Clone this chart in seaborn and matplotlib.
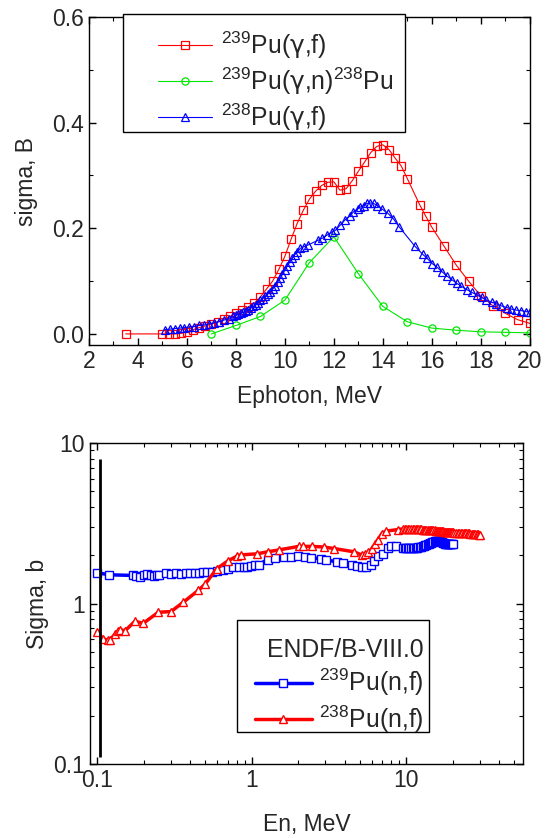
import matplotlib
matplotlib.use('Agg')
import matplotlib.pyplot as plt
from matplotlib.patches import Rectangle
from matplotlib.ticker import MultipleLocator, LogLocator, NullFormatter, FormatStrFormatter
import pandas as pd
import seaborn as sns

# --- photon-induced reactions (upper panel)
gf239_e = [3.5, 5.0, 5.25, 5.5, 5.75, 6.0, 6.25, 6.5, 6.75, 7.0, 7.25, 7.5, 7.75, 8.0, 8.25,
           8.5, 8.75, 9.0, 9.25, 9.5, 9.75, 10.0, 10.25, 10.5, 10.75, 11.0, 11.25, 11.5, 11.75,
           12.0, 12.25, 12.5, 12.75, 13.0, 13.25, 13.5, 13.75, 14.0, 14.25, 14.5, 14.75, 15.0,
           15.5, 15.75, 16.0, 16.5, 17.0, 17.5, 18.0, 18.5, 19.0, 19.5, 20.0]
gf239_s = [0.0, 0.0, 0.0, 0.0, 0.001, 0.004, 0.008, 0.012, 0.015, 0.019, 0.023, 0.028, 0.033,
           0.039, 0.045, 0.051, 0.058, 0.070, 0.085, 0.100, 0.122, 0.147, 0.179, 0.209, 0.234,
           0.255, 0.270, 0.281, 0.287, 0.288, 0.272, 0.275, 0.290, 0.308, 0.325, 0.343, 0.355,
           0.358, 0.349, 0.333, 0.318, 0.294, 0.245, 0.223, 0.202, 0.166, 0.130, 0.100, 0.072,
           0.053, 0.039, 0.027, 0.020]

gn239_e = [7, 8, 9, 10, 11, 12, 13, 14, 15, 16, 17, 18, 19, 20]
gn239_s = [0.0, 0.016, 0.033, 0.064, 0.135, 0.184, 0.114, 0.052, 0.023, 0.011, 0.007, 0.004,
           0.003, 0.002]

gf238_e = [5.1, 5.3, 5.5, 5.7, 5.9, 6.1, 6.3, 6.5, 6.7, 6.9, 7.1, 7.3, 7.5, 7.7, 7.9, 8.0, 8.1,
           8.2, 8.3, 8.4, 8.5, 8.6, 8.7, 8.8, 8.9, 9.0, 9.1, 9.2, 9.3, 9.4, 9.5, 9.6, 9.7, 9.8,
           9.9, 10.0, 10.1, 10.2, 10.3, 10.4, 10.5, 10.63, 10.77, 10.93, 11.34, 11.52, 11.72,
           11.92, 12.06, 12.26, 12.46, 12.67, 12.80, 12.97, 13.07, 13.21, 13.35, 13.48, 13.62,
           13.78, 13.95, 14.19, 14.43, 14.66, 15.31, 15.62, 15.81, 16.02, 16.22, 16.41, 16.60,
           16.81, 17.01, 17.21, 17.42, 17.62, 17.83, 18.03, 18.23, 18.44, 18.64, 18.84, 19.05,
           19.25, 19.45, 19.66, 19.86, 20.0]
gf238_s = [0.008, 0.009, 0.010, 0.011, 0.012, 0.013, 0.014, 0.016, 0.017, 0.019, 0.021, 0.023,
           0.026, 0.029, 0.033, 0.035, 0.037, 0.039, 0.041, 0.043, 0.046, 0.049, 0.052, 0.055,
           0.059, 0.064, 0.067, 0.071, 0.076, 0.080, 0.085, 0.091, 0.098, 0.105, 0.113, 0.121,
           0.129, 0.136, 0.143, 0.150, 0.155, 0.162, 0.165, 0.168, 0.177, 0.181, 0.187, 0.193,
           0.196, 0.206, 0.216, 0.224, 0.231, 0.237, 0.240, 0.243, 0.247, 0.248, 0.247, 0.243,
           0.237, 0.229, 0.218, 0.203, 0.166, 0.151, 0.143, 0.133, 0.126, 0.118, 0.110, 0.103,
           0.096, 0.090, 0.084, 0.079, 0.074, 0.069, 0.064, 0.060, 0.057, 0.053, 0.050, 0.047,
           0.045, 0.044, 0.042, 0.042]

# --- neutron-induced fission, ENDF/B-VIII.0 (lower panel)
nf239_e = [0.100, 0.120, 0.172, 0.179, 0.190, 0.201, 0.210, 0.223, 0.234, 0.243, 0.253, 0.279,
           0.300, 0.325, 0.348, 0.377, 0.399, 0.430, 0.459, 0.487, 0.517, 0.553, 0.601, 0.656,
           0.707, 0.762, 0.833, 0.894, 0.930, 0.990, 1.055, 1.11, 1.27, 1.42, 1.62, 1.80, 2.00,
           2.22, 2.42, 2.80, 3.03, 3.58, 3.92, 4.49, 4.82, 5.14, 5.50, 5.89, 6.19, 6.59, 7.09,
           7.57, 8.00, 8.62,
           9.5, 9.75, 10.0, 10.25, 10.5, 10.75, 11.0, 11.25, 11.5, 11.75, 12.0, 12.25, 12.5,
           12.75, 13.0, 13.25, 13.5, 13.75, 14.0, 14.25, 14.5, 14.75, 15.0, 15.25, 15.5, 15.75,
           16.0, 16.25, 16.5, 16.75, 17.0, 17.25, 17.5, 17.75, 18.0, 18.25, 18.5, 18.75, 19.0,
           19.25, 19.5, 19.75, 20.0]
nf239_s = [1.556, 1.51, 1.496, 1.48, 1.47, 1.50, 1.52, 1.50, 1.49, 1.496, 1.51, 1.546, 1.53,
           1.54, 1.53, 1.56, 1.556, 1.556, 1.56, 1.57, 1.57, 1.57, 1.60, 1.62, 1.64, 1.69, 1.69,
           1.68, 1.70, 1.72, 1.74, 1.75, 1.88, 1.93, 1.95, 1.95, 1.98, 1.96, 1.93, 1.90, 1.88,
           1.81, 1.79, 1.75, 1.72, 1.70, 1.69, 1.74, 1.84, 1.97, 2.04, 2.23, 2.27, 2.27,
           2.22, 2.22, 2.22, 2.22, 2.22, 2.22, 2.22, 2.22, 2.23, 2.23, 2.24, 2.25, 2.26,
           2.27, 2.29, 2.30, 2.32, 2.34, 2.36, 2.38, 2.40, 2.42, 2.43, 2.45, 2.46, 2.47,
           2.47, 2.46, 2.45, 2.43, 2.41, 2.39, 2.37, 2.36, 2.35, 2.34, 2.34, 2.34, 2.35,
           2.35, 2.36, 2.36, 2.36]

nf238_e = [0.100, 0.110, 0.117, 0.121, 0.131, 0.137, 0.141, 0.152, 0.176, 0.199, 0.249, 0.301,
           0.362, 0.453, 0.500, 0.595, 0.707, 0.800, 0.855, 1.08, 1.27, 1.51, 2.02, 2.16, 2.45,
           2.93, 3.43, 4.60, 5.2, 5.43, 5.70, 6.0, 6.30, 6.52, 6.96, 7.42, 8.9,
           9.5, 9.75, 10.0, 10.25, 10.5, 10.75, 11.0, 11.25, 11.5, 11.75, 12.0, 12.25, 12.5,
           12.75, 13.0, 13.25, 13.5, 13.75, 14.0, 14.25, 14.5, 14.75, 15.0, 15.25, 15.5, 15.75,
           16.0, 16.25, 16.5, 16.75, 17.0, 17.25, 17.5, 17.75, 18.0, 18.25, 18.5, 18.75, 19.0,
           19.25, 19.5, 19.75, 20.0,
           20.5, 21.0, 21.5, 22.0, 22.5, 23.0, 23.5, 24.0, 24.5, 25.0, 25.5, 26.0, 26.5, 27.0,
           27.5, 28.0, 28.5, 29.0, 29.5, 30.0]
nf238_s = [0.668, 0.601, 0.593, 0.593, 0.646, 0.678, 0.685, 0.678, 0.775, 0.753, 0.882, 0.891,
           1.02, 1.21, 1.32, 1.65, 1.85, 1.97, 2.01, 2.04, 2.10, 2.16, 2.27, 2.27, 2.27, 2.25,
           2.20, 2.10, 2.00, 2.04, 2.09, 2.20, 2.36, 2.48, 2.73, 2.83, 2.89,
           2.92, 2.92, 2.93, 2.93, 2.92, 2.92, 2.92, 2.92, 2.91, 2.91, 2.90, 2.90, 2.90,
           2.89, 2.89, 2.89, 2.88, 2.88, 2.88, 2.87, 2.87, 2.86, 2.86, 2.86, 2.85, 2.85,
           2.84, 2.84, 2.83, 2.83, 2.82, 2.82, 2.81, 2.81, 2.80, 2.80, 2.79, 2.79, 2.79,
           2.78, 2.78, 2.78, 2.78,
           2.77, 2.77, 2.77, 2.76, 2.76, 2.75, 2.75, 2.75, 2.74, 2.74, 2.74, 2.73, 2.73, 2.72,
           2.72, 2.71, 2.71, 2.70, 2.69, 2.68]

# vertical marker line in the lower panel
cut_e = 0.105
cut_lo, cut_hi = 0.11, 7.9

sns.set_style('ticks')
plt.rcParams['font.family'] = ['Liberation Sans', 'DejaVu Sans']
plt.rcParams['mathtext.default'] = 'regular'
plt.rcParams['mathtext.fontset'] = 'custom'
plt.rcParams['mathtext.rm'] = 'Liberation Sans'
plt.rcParams['mathtext.sf'] = 'DejaVu Sans'

FS = 16.5
LFS = 17.8

fig = plt.figure(figsize=(5.51, 8.38), dpi=100)
ax1 = fig.add_axes([0.1615, 0.5883, 0.800, 0.3914])
ax2 = fig.add_axes([0.1633, 0.0883, 0.786, 0.383])

top = [
    (gf239_e, gf239_s, '#ff0000', 's', r'$^{239}$Pu($\mathsf{\gamma}$,f)'),
    (gn239_e, gn239_s, '#00e600', 'o', r'$^{239}$Pu($\mathsf{\gamma}$,n)$^{238}$Pu'),
    (gf238_e, gf238_s, '#0000ff', '^', r'$^{238}$Pu($\mathsf{\gamma}$,f)'),
]
for e, s, c, m, lab in top:
    df = pd.DataFrame({'E': e, 'sigma': s})
    sns.lineplot(data=df, x='E', y='sigma', color=c, marker=m, markersize=5.2,
                 markerfacecolor='none', markeredgecolor=c, markeredgewidth=0.9,
                 linewidth=0.8, estimator=None, label=lab, ax=ax1)

ax1.set(xlim=(2, 20), ylim=(-0.021, 0.6))
ax1.set_xticks(range(2, 21, 2))
ax1.set_yticks([0.0, 0.2, 0.4, 0.6])
ax1.yaxis.set_major_formatter(FormatStrFormatter('%.1f'))
ax1.xaxis.set_minor_locator(MultipleLocator(1))
ax1.yaxis.set_minor_locator(MultipleLocator(0.1))
ax1.set_xlabel('Ephoton, MeV', fontsize=FS, labelpad=9)
ax1.set_ylabel('sigma, B', fontsize=FS, labelpad=10)
# framed box drawn separately so the padding matches the original
ax1.add_patch(Rectangle((0.077, 0.649), 0.640, 0.360, transform=ax1.transAxes,
                        facecolor='white', edgecolor='black', linewidth=1.0,
                        clip_on=False, zorder=4))
ax1.legend(loc='upper left', bbox_to_anchor=(0.156, 0.962), fontsize=LFS,
           frameon=False, handlelength=2.2, handletextpad=0.35, borderpad=0,
           labelspacing=0.18, borderaxespad=0)

bottom = [
    (nf239_e, nf239_s, '#0000ff', 's', '$^{239}$Pu(n,f)'),
    (nf238_e, nf238_s, '#ff0000', '^', '$^{238}$Pu(n,f)'),
]
for e, s, c, m, lab in bottom:
    df = pd.DataFrame({'E': e, 'sigma': s})
    sns.lineplot(data=df, x='E', y='sigma', color=c, marker=m, markersize=6,
                 markerfacecolor='white', markeredgecolor=c, markeredgewidth=1.0,
                 linewidth=2.5, estimator=None, label=lab, ax=ax2)
ax2.vlines(cut_e, cut_lo, cut_hi, color='black', linewidth=2)

ax2.set(xscale='log', yscale='log', xlim=(0.09, 57), ylim=(0.1, 10))
ax2.set_xticks([0.1, 1, 10])
ax2.set_xticklabels(['0.1', '1', '10'])
ax2.set_yticks([0.1, 1, 10])
ax2.set_yticklabels(['0.1', '1', '10'])
ax2.xaxis.set_minor_locator(LogLocator(base=10, subs=range(2, 10)))
ax2.yaxis.set_minor_locator(LogLocator(base=10, subs=range(2, 10)))
ax2.xaxis.set_minor_formatter(NullFormatter())
ax2.yaxis.set_minor_formatter(NullFormatter())
ax2.set_xlabel('En, MeV', fontsize=FS, labelpad=15)
ax2.set_ylabel('Sigma, b', fontsize=FS, labelpad=3)
ax2.add_patch(Rectangle((0.3395, 0.0997), 0.4435, 0.349, transform=ax2.transAxes,
                        facecolor='white', edgecolor='black', linewidth=1.0,
                        clip_on=False, zorder=4))
ax2.legend(loc='upper left', bbox_to_anchor=(0.381, 0.393), fontsize=LFS,
           title='ENDF/B-VIII.0', title_fontsize=LFS, alignment='right',
           frameon=False, handlelength=2.3, handletextpad=0.3, borderpad=0,
           labelspacing=0.2, borderaxespad=0)

for ax in (ax1, ax2):
    for sp in ax.spines.values():
        sp.set_color('black')
        sp.set_linewidth(1.0)
    ax.tick_params(which='both', direction='in', top=True, right=True,
                   labelsize=FS, color='black')
    ax.tick_params(which='major', length=5, width=1)
    ax.tick_params(which='minor', length=3, width=0.8)

fig.savefig('out.png', dpi=100)
